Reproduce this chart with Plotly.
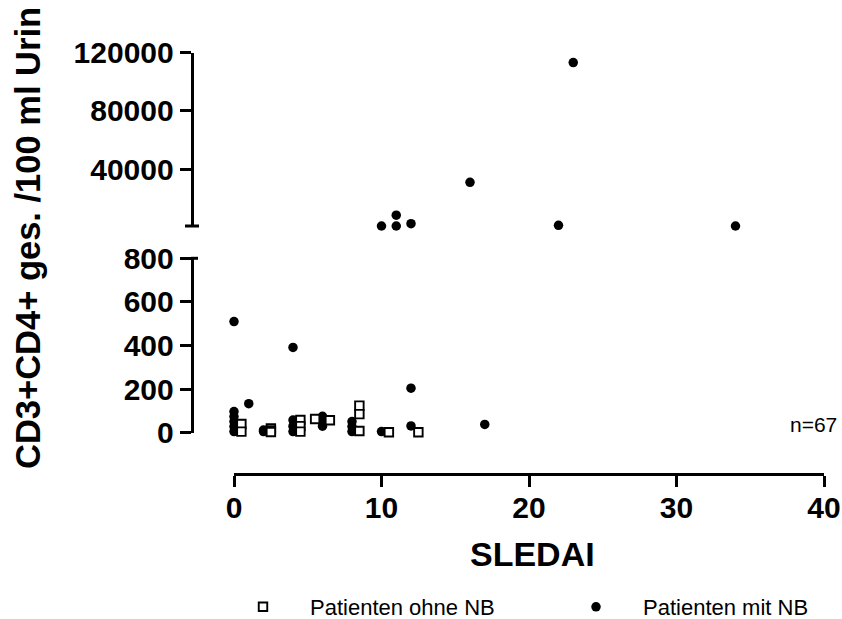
import plotly.graph_objects as go

# ---- data ----
ohne_x = [0.5, 0.5, 2.5, 2.5, 2.5, 4.5, 4.5, 4.5, 5.5, 6.5, 8.5, 8.5, 8.5, 10.5, 12.5]
ohne_y = [40, 5, 20, 10, 3, 58, 30, 5, 63, 57, 124, 85, 8, 2, 2]

mit_x = [0, 0, 0, 0, 0, 0, 1, 2, 2, 4, 4, 4, 4, 6, 6, 6, 8, 8, 8, 10, 12, 12, 17,
         10, 11, 11, 12, 16, 22, 23, 34]
mit_y = [510, 97, 74, 51, 28, 5, 133, 12, 5, 391, 58, 30, 5, 75, 50, 30, 51, 28, 5, 5, 204, 31, 38,
         1000, 8400, 1000, 2600, 31000, 1500, 113200, 1000]

x_ticks = [0, 10, 20, 30, 40]
low_ticks = [0, 200, 400, 600, 800]
up_ticks = [40000, 80000, 120000]
BREAK = 800

W, H = 842, 619
def px(x): return x / W
def py(y): return 1 - y / H

FONT = "Liberation Sans, Arial, sans-serif"

def split(xs, ys, upper):
    xx, yy = [], []
    for a, b in zip(xs, ys):
        if (b > BREAK) == upper:
            xx.append(a); yy.append(b)
    return xx, yy

fig = go.Figure()
circle = dict(symbol="circle", size=9.5, color="black", line=dict(width=0))
square = dict(symbol="square", size=8.5, color="white", line=dict(color="black", width=1.9))

for upper, ya in [(False, "y"), (True, "y2")]:
    cx, cy = split(mit_x, mit_y, upper)
    fig.add_trace(go.Scatter(x=cx, y=cy, mode="markers", marker=circle, yaxis=ya,
                             name="Patienten mit NB", showlegend=not upper,
                             legendrank=2, cliponaxis=False))
for upper, ya in [(False, "y"), (True, "y2")]:
    sx, sy = split(ohne_x, ohne_y, upper)
    fig.add_trace(go.Scatter(x=sx, y=sy, mode="markers", marker=square, yaxis=ya,
                             name="Patienten ohne NB", showlegend=not upper,
                             legendrank=1, cliponaxis=False))

axis_common = dict(showline=True, linecolor="black", linewidth=3, ticks="outside",
                   ticklen=11, tickwidth=3, tickcolor="black", showgrid=False, zeroline=False,
                   tickfont=dict(family=FONT, size=30, color="black", weight="bold"),
                   tickformat="d", automargin=False)

fig.update_layout(
    width=W, height=H, template="none",
    paper_bgcolor="white", plot_bgcolor="white",
    margin=dict(l=0, r=0, t=0, b=0, autoexpand=False),
    xaxis=dict(domain=[px(234), px(824)], range=[0, 40], tickvals=x_ticks,
               anchor="free", position=py(474), ticklabelstandoff=-5, **axis_common),
    yaxis=dict(domain=[py(432.7), py(258.3)], range=[0, 800], tickvals=low_ticks,
               anchor="free", position=px(191.7), **axis_common),
    yaxis2=dict(domain=[py(226), py(52.7)], range=[1000, 120000], tickvals=up_ticks,
                anchor="free", position=px(191.7), **axis_common),
    showlegend=True,
    legend=dict(orientation="h", x=px(216), y=py(607), xanchor="left", yanchor="middle",
                font=dict(family=FONT, size=22, color="black"), itemwidth=84,
                entrywidth=234, entrywidthmode="pixels", bgcolor="rgba(0,0,0,0)"),
    annotations=[
        dict(text="SLEDAI", xref="paper", yref="paper", x=px(532), y=py(554),
             xanchor="center", yanchor="middle", showarrow=False,
             font=dict(family=FONT, size=34, color="black", weight="bold")),
        dict(text="CD3+CD4+ ges. /100 ml Urin", xref="paper", yref="paper",
             x=px(28), y=py(238), xanchor="center", yanchor="middle", textangle=-90,
             showarrow=False, font=dict(family=FONT, size=34.5, color="black", weight="bold")),
        dict(text="n=67", xref="paper", yref="paper", x=px(839), y=py(424),
             xanchor="right", yanchor="middle", showarrow=False,
             font=dict(family=FONT, size=21, color="black")),
    ],
    shapes=[
        dict(type="line", xref="paper", yref="y2 domain", x0=px(185), x1=px(199), y0=0, y1=0,
             line=dict(color="black", width=3)),
        dict(type="line", xref="paper", yref="y domain", x0=px(191), x1=px(198), y0=1, y1=1,
             line=dict(color="black", width=3)),
    ],
)

fig.write_html("out.html",
               config={"displayModeBar": False},
               post_script="document.body.style.margin='0px';document.body.style.overflow='hidden';")
